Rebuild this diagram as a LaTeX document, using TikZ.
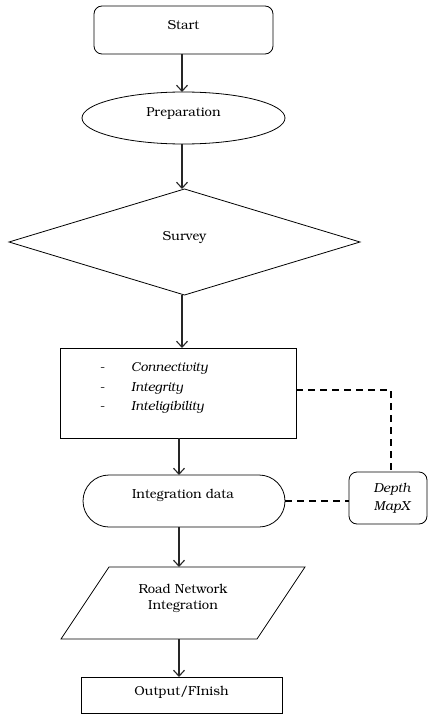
\documentclass[tikz,border=0pt]{standalone}
\usepackage[T1]{fontenc}
\usepackage{bookman}
\usetikzlibrary{shapes.geometric,shapes.misc,arrows.meta}
\begin{document}
\begin{tikzpicture}[x=1pt,y=-1pt,
  shp/.style={draw=black,line width=0.8pt,inner sep=0pt,outer sep=0pt},
  arr/.style={draw=black!85,line width=1.1pt,-{Straight Barb[length=6pt,width=11pt,line width=1.1pt]}},
  dsh/.style={draw=black,line width=1.8pt,dash pattern=on 7pt off 5pt},
  txt/.style={font=\fontsize{13}{16}\selectfont,inner sep=0pt}]
\useasboundingbox (0,0) rectangle (428,714);
\fill[white] (0,0) rectangle (428,714);
% shapes
\node[shp,rounded corners=8pt,minimum width=179pt,minimum height=48pt] (start) at (183.5,30) {};
\node[txt] (starttxt) at (183.5,25) {Start};
\node[shp,ellipse,minimum width=203pt,minimum height=52pt] (prep) at (183.5,118) {};
\node[txt] (preptxt) at (183.5,113) {Preparation};
\node[shp,diamond,minimum width=351pt,minimum height=106pt] (survey) at (184.5,242) {};
\node[txt] (surveytxt) at (184.5,237) {Survey};
\node[shp,rectangle,minimum width=236pt,minimum height=90pt] (attr) at (178,393) {};
\node[txt,anchor=base west] (attrtxt) at (100,371.5) {\fontsize{13}{19.5}\selectfont
  \begin{tabular}[t]{@{}p{31pt}@{}l@{}}-&\textit{Connectivity}\\-&\textit{Integrity}\\-&\textit{Inteligibility}\end{tabular}};
\node[shp,rounded rectangle,minimum width=202pt,minimum height=52pt] (intdata) at (184,501) {};
\node[txt] (inttxt) at (183,496) {Integration data};
\node[shp,rounded corners=8pt,minimum width=78pt,minimum height=52pt] (depth) at (388,498) {};
\node[txt,align=center,font=\fontsize{13}{18}\selectfont\itshape] (depthtxt) at (392,498) {Depth\\MapX};
\node[inner sep=0pt,outer sep=0pt,minimum width=244pt,minimum height=72pt] (road) at (183,603) {};
\draw[shp] ([xshift=48pt]road.north west) -- (road.north east) -- ([xshift=-48pt]road.south east) -- (road.south west) -- cycle;
\node[txt,align=center,font=\fontsize{13}{16}\selectfont] (roadtxt) at (183,599) {Road Network\\Integration};
\node[shp,minimum width=201pt,minimum height=36pt] (out) at (181.5,695) {};
\node[txt] (outtxt) at (181.5,692) {Output/FInish};
% arrow axes
\coordinate (axa) at (182,0);
\coordinate (axb) at (179,0);
\draw[arr] (axa |- start.south) -- (axa |- prep.north);
\draw[arr] (axa |- prep.south) -- (axa |- survey.north);
\draw[arr] (axa |- survey.south) -- (axa |- attr.north);
\draw[arr] (axb |- attr.south) -- (axb |- intdata.north);
\draw[arr] (axb |- intdata.south) -- (axb |- road.north);
\draw[arr] (axb |- road.south) -- (axb |- out.north);
% dashed links
\coordinate (bend) at (391,390);
\draw[dsh] (attr.east |- bend) -- (bend) -- (bend |- depth.north);
\draw[dsh] (intdata.east) -- (depth.west |- intdata.east);
\end{tikzpicture}
\end{document}
